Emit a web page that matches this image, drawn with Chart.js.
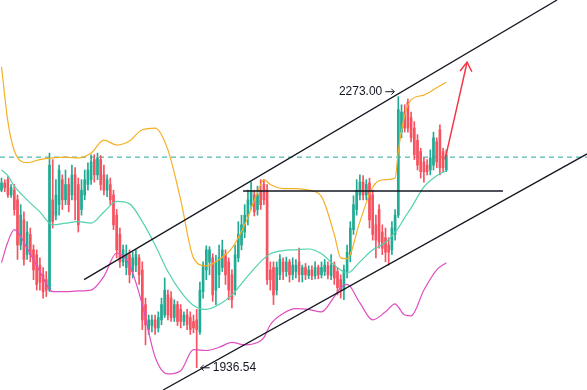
<!DOCTYPE html>
<html>
<head>
<meta charset="utf-8">
<script src="https://cdn.jsdelivr.net/npm/chart.js"></script>
<style>
  html, body { margin: 0; padding: 0; background: #ffffff; }
  #wrap { width: 587px; height: 390px; position: relative; }
</style>
</head>
<body>
<div id="wrap"><canvas id="chart"></canvas></div>
<script>
// candles, one per bar index (0..139)
const candleOpen = [
  2157,2166,2170,2151,2157,2145,2089,2120,2077,2102,
  2083,2077,2064,2052,2046,2033,2145,2126,2139,2170,
  2145,2164,2151,2176,2164,2133,2151,2164,2170,2195,
  2176,2195,2176,2157,2164,2151,2126,2102,2068,2061,
  2077,2056,2064,2073,2058,2015,1984,1989,1996,1986,
  1996,2002,2027,2023,1999,2015,2009,1994,2002,1999,
  1994,1996,1981,2031,2058,2068,2073,2033,2052,2061,
  2077,2068,2052,2033,2073,2089,2105,2123,2139,2151,
  2133,2157,2164,2157,2058,2061,2033,2052,2068,2056,
  2068,2052,2056,2068,2052,2061,2051,2058,2051,2061,
  2052,2056,2063,2051,2064,2056,2046,2033,2056,2077,
  2108,2133,2151,2167,2151,2166,2151,2114,2133,2105,
  2098,2089,2083,2102,2126,2229,2254,2266,2247,2234,
  2219,2205,2192,2188,2182,2188,2217,2232,2205,2182
];
const candleClose = [
  2166,2160,2151,2160,2133,2089,2126,2071,2105,2077,
  2058,2040,2043,2031,2033,2188,2118,2151,2182,2145,
  2164,2139,2176,2145,2114,2157,2170,2182,2192,2176,
  2197,2164,2157,2170,2145,2114,2083,2068,2083,2077,
  2052,2073,2077,2052,1996,1990,1996,1996,1986,1999,
  2015,2033,2002,1999,2015,1994,1994,2002,1990,1984,
  1986,1984,2033,2064,2083,2083,2027,2068,2073,2083,
  2052,2033,2021,2077,2102,2114,2126,2145,2155,2130,
  2151,2139,2145,2046,2046,2027,2061,2071,2056,2068,
  2052,2064,2064,2052,2061,2052,2058,2051,2061,2052,
  2061,2064,2052,2064,2048,2036,2033,2058,2080,2110,
  2139,2157,2167,2151,2164,2120,2102,2095,2093,2085,
  2080,2080,2110,2126,2257,2254,2234,2234,2222,2201,
  2188,2180,2180,2180,2197,2222,2192,2185,2185,2201
];
const candleHigh = [
  2172,2170,2174,2164,2164,2151,2139,2130,2118,2110,
  2089,2083,2073,2061,2056,2203,2195,2170,2188,2176,
  2182,2172,2188,2185,2172,2170,2182,2191,2201,2201,
  2203,2200,2188,2176,2172,2157,2133,2110,2089,2089,
  2083,2080,2083,2077,2068,2023,2002,2002,2002,2006,
  2023,2048,2033,2031,2021,2019,2015,2006,2009,2006,
  2002,2009,2043,2068,2088,2087,2078,2076,2089,2095,
  2083,2073,2058,2089,2118,2126,2139,2157,2167,2157,
  2162,2170,2170,2164,2068,2068,2068,2077,2073,2074,
  2071,2073,2071,2085,2064,2066,2063,2063,2068,2064,
  2068,2071,2068,2077,2068,2061,2052,2064,2089,2118,
  2150,2170,2176,2175,2170,2172,2157,2126,2139,2114,
  2110,2098,2118,2133,2273,2263,2263,2270,2254,2242,
  2226,2209,2197,2195,2207,2229,2222,2238,2209,2207
];
const candleLow = [
  2155,2155,2148,2148,2126,2071,2083,2064,2071,2068,
  2046,2033,2033,2023,2025,2031,2110,2120,2126,2133,
  2139,2130,2145,2120,2105,2126,2145,2157,2164,2167,
  2170,2157,2151,2149,2139,2108,2073,2061,2063,2052,
  2042,2048,2056,2040,1984,1965,1978,1981,1978,1981,
  1990,1999,1996,1994,1994,1989,1986,1989,1984,1978,
  1980,1936.54,1978,2023,2046,2052,2019,2015,2036,2056,
  2040,2021,2011,2027,2068,2083,2098,2114,2133,2125,
  2126,2133,2139,2040,2033,2015,2027,2046,2046,2050,
  2043,2046,2048,2043,2043,2046,2047,2046,2047,2047,
  2048,2051,2047,2046,2040,2027,2023,2021,2048,2068,
  2102,2126,2145,2145,2145,2110,2095,2073,2085,2077,
  2068,2064,2077,2095,2123,2222,2229,2229,2217,2195,
  2182,2172,2167,2176,2176,2182,2185,2176,2180,2180
];

// bollinger bands, sampled at these bar indexes
const bandIdx = [0,2,4,8,12,16,20,24,28,32,36,40,44,48,52,56,60,64,68,72,
                 76,80,82,84,88,92,96,100,104,106,108,112,116,120,123,124,126,128,132,136,139];
const bandUpper = [2310,2242,2206,2191,2195,2197,2198,2197,2203,2219,
                   2213,2218,2232,2234,2207,2145,2073,2063,2071,2085,
                   2114,2154,2170,2164,2159,2159,2157,2149,2102,2073,
                   2072,2118,2161,2170,2172,2205,2250,2269,2275,2284,2291];
const bandMiddle = [2182,2175,2162,2145,2130,2114,2116,2118,2116,2130,
                    2143,2140,2118,2089,2056,2031,2014,2009,2015,2027,
                    2046,2064,2072,2078,2082,2083,2084,2078,2064,2058,
                    2054,2068,2083,2092,2105,2110,2123,2135,2161,2175,2181];
const bandLower = [2067,2093,2108,2085,2056,2031,2031,2032,2033,2050,
                   2079,2064,2015,1950,1929,1933,1959,1958,1962,1968,
                   1965,1968,1974,1990,2004,2010,2009,2006,2025,2036,
                   2040,2017,1996,2006,2016,2012,2002,2001,2033,2058,2067];

// drawn lines: [barIndex, price]
const channelTop = [[25.8, 2046], [173.6, 2393]];
const channelBottom = [[50.5, 1909], [183, 2202]];
const resistance = [[75.5, 2156], [156.7, 2156]];
const lastPrice = 2198;
const arrowShaft = [[138.6, 2195], [145.5, 2316]];
const arrowHead = [[143.3, 2305], [145.5, 2316], [147.0, 2304]];

const highBar = 124;
const lowBar = 61;

const xMin = -0.47, xMax = 182.97;
const yMin = 1909, yMax = 2393;

const upColor = "#22ab94";
const downColor = "#f7525f";

const pts = (arr) => arr.map((p) => ({ x: p[0], y: p[1] }));
const candleColors = candleOpen.map((o, i) => (candleClose[i] >= o ? upColor : downColor));

const bodies = candleOpen.map((o, i) => ({ x: i, y: [o, candleClose[i]] }));
const wicks = candleOpen.map((o, i) => ({ x: i, y: [candleLow[i], candleHigh[i]] }));

const bandLine = (vals, color) => ({
  type: "line",
  data: bandIdx.map((b, i) => ({ x: b, y: vals[i] })),
  borderColor: color,
  borderWidth: 1.2,
  pointRadius: 0,
  cubicInterpolationMode: "monotone",
  order: 2,
});

const plainLine = (data, color, width, order) => ({
  type: "line",
  data: data,
  borderColor: color,
  borderWidth: width,
  pointRadius: 0,
  tension: 0,
  order: order,
});

// price labels with little arrows
const labelPlugin = {
  id: "priceLabels",
  afterDatasetsDraw(chart) {
    const { ctx, scales } = chart;
    const xs = scales.x, ys = scales.y;
    ctx.save();
    ctx.font = '12px "Liberation Sans", Arial, sans-serif';
    ctx.fillStyle = "#131722";
    ctx.strokeStyle = "#131722";
    ctx.lineWidth = 1;
    ctx.textBaseline = "middle";

    // high
    let px = xs.getPixelForValue(highBar);
    let py = ys.getPixelForValue(candleHigh[highBar]) - 5;
    ctx.textAlign = "right";
    ctx.fillText(candleHigh[highBar].toFixed(2), px - 16, py);
    ctx.beginPath();
    ctx.moveTo(px - 13, py); ctx.lineTo(px - 4, py);
    ctx.moveTo(px - 7, py - 3); ctx.lineTo(px - 4, py); ctx.lineTo(px - 7, py + 3);
    ctx.stroke();

    // low
    px = xs.getPixelForValue(lowBar);
    py = ys.getPixelForValue(candleLow[lowBar]);
    ctx.textAlign = "left";
    ctx.fillText(candleLow[lowBar].toFixed(2), px + 16, py);
    ctx.beginPath();
    ctx.moveTo(px + 13, py); ctx.lineTo(px + 4, py);
    ctx.moveTo(px + 7, py - 3); ctx.lineTo(px + 4, py); ctx.lineTo(px + 7, py + 3);
    ctx.stroke();
    ctx.restore();
  },
};

new Chart(document.getElementById("chart"), {
  type: "bar",
  data: {
    datasets: [
      plainLine(pts(channelTop), "#131722", 1.3, 1),
      plainLine(pts(channelBottom), "#131722", 1.3, 1),
      plainLine(pts(resistance), "#131722", 1.5, 1),
      plainLine(pts(arrowShaft), "#f23645", 1.5, 1),
      plainLine(pts(arrowHead), "#f23645", 1.5, 1),
      bandLine(bandUpper, "#f6b026"),
      bandLine(bandMiddle, "#52d2ae"),
      bandLine(bandLower, "#e04fc0"),
      {
        type: "bar",
        data: bodies,
        backgroundColor: candleColors,
        barThickness: 2,
        grouped: false,
        order: 3,
      },
      {
        type: "bar",
        data: wicks,
        backgroundColor: candleColors,
        barThickness: 1,
        grouped: false,
        order: 4,
      },
      Object.assign(plainLine([{ x: xMin, y: lastPrice }, { x: xMax, y: lastPrice }], "#26a69a", 1, 5), {
        borderDash: [5, 4],
      }),
    ],
  },
  options: {
    responsive: true,
    maintainAspectRatio: false,
    animation: false,
    layout: { padding: 0 },
    plugins: { legend: { display: false }, tooltip: { enabled: false } },
    scales: {
      x: { type: "linear", min: xMin, max: xMax, offset: false, display: false },
      y: { type: "linear", min: yMin, max: yMax, display: false },
    },
  },
  plugins: [labelPlugin],
});
</script>
</body>
</html>
